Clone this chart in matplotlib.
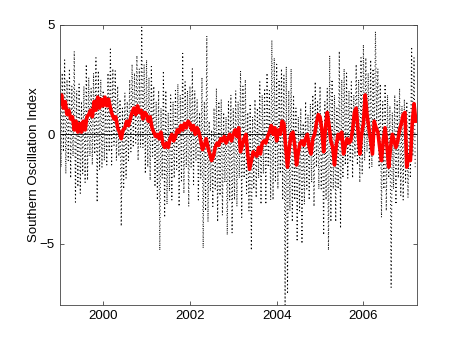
import matplotlib.pyplot as plt
import numpy as np

plt.rcParams['font.family'] = ['Liberation Sans', 'DejaVu Sans']

START = 1999.0
# daily-ish SOI (~10 day steps, 36 per year)
soi_1999 = [3.2, -1.5, 2.8, -0.8, 3.4, -1.8, 2.5, -1.2, 3.0, -2.0, 2.2, -1.0,
            3.8, -3.1, 2.0, -2.4, 2.3, -2.7, 1.5, -1.8, 2.2, -2.2, 3.2, -2.1,
            2.6, -1.0, 2.1, -1.4, 2.8, -0.9, 3.5, -3.1, 2.9, -1.6, 2.5, -1.5]
soi_2000 = [2.0, -1.2, 1.6, -1.4, 2.8, -0.8, 3.9, -1.4, 3.0, -0.5, 2.9, -1.2,
            2.2, -1.0, 1.6, -4.2, 1.2, -2.5, 1.9, -2.0, 1.5, -1.2, 2.5, -0.8,
            3.2, -0.6, 2.8, -0.4, 3.6, -1.2, 3.0, -0.6, 4.9, -0.6, 3.2, -1.8]
soi_2001 = [3.4, -1.5, 2.6, -2.1, 3.1, -1.0, 2.2, -2.4, 1.5, -3.0, 2.0, -5.3,
            1.2, -2.0, 2.9, -3.8, 2.0, -3.2, 1.0, -2.6, 1.8, -3.0, 1.5, -2.0,
            2.0, -1.6, 2.3, -3.3, 1.8, -2.2, 3.7, -2.7, 2.4, -1.5, 2.0, -3.3]
soi_2002 = [2.2, -1.5, 3.0, -2.3, 2.0, -1.2, 1.6, -3.0, 1.0, -2.0, 2.6, -5.2,
            1.5, -3.5, 4.5, -4.0, 0.6, -2.6, 0.2, -3.3, 1.2, -2.5, 2.1, -4.0,
            1.5, -2.8, 1.6, -3.7, 1.0, -2.2, 0.8, -4.6, 1.5, -3.0, 1.8, -4.5]
soi_2003 = [1.2, -3.0, 2.0, -3.3, 1.5, -2.0, 2.9, -3.8, 2.2, -2.0, 2.5, -2.7,
            1.0, -3.5, 1.4, -5.3, 0.8, -2.5, 1.6, -2.9, 1.2, -2.0, 2.4, -3.2,
            1.8, -1.8, 2.1, -3.2, 2.8, -1.5, 2.0, -3.0, 4.3, -3.0, 3.5, -2.2]
soi_2004 = [3.2, -2.5, 2.5, -1.8, 3.0, -3.0, 2.7, -7.8, 3.1, -7.3, 2.0, -3.5,
            3.0, -4.0, 1.8, -3.0, 1.2, -4.9, 0.8, -3.5, 1.2, -5.0, 0.5, -3.2,
            1.5, -2.5, 0.9, -3.0, 1.4, -2.2, 1.8, -3.3, 2.4, -1.5, 1.5, -2.5]
soi_2005 = [2.2, -2.5, 0.6, -4.6, 1.5, -3.0, 2.1, -5.3, 3.6, -4.0, 2.5, -2.5,
            1.8, -4.0, 1.2, -2.5, 3.8, -4.3, 2.5, -2.0, 3.0, -1.4, 2.8, -2.0,
            2.0, -1.2, 2.4, -2.0, 1.8, -1.0, 3.2, -1.4, 2.5, -2.2, 3.5, -1.8]
soi_2006 = [4.1, -1.2, 3.5, -0.8, 2.8, -1.6, 3.4, -1.5, 3.0, -0.5, 4.7, 0.6,
            3.0, -1.5, 2.3, -3.8, 1.5, -2.5, 2.3, -3.5, 1.8, -2.0, 1.3, -7.0,
            1.0, -2.5, 1.8, -3.2, 1.5, -2.0, 2.1, -2.8, 1.3, -3.0, 1.6, -2.2]
soi_2007 = [1.5, -2.9, 1.0, -2.0, 4.0, -1.0, 3.5, -1.5]

# smoothed index (red), 24 per year
smooth_1999 = [1.4, 1.8, 1.2, 1.5, 0.9, 1.1, 0.7, 0.8, 0.2, 0.6, 0.1, 0.5,
               0.1, 0.6, 0.2, 0.8, 0.9, 1.1, 0.8, 1.5, 1.1, 1.7, 1.2, 1.6]
smooth_2000 = [1.3, 1.7, 1.3, 1.6, 1.2, 0.9, 0.7, 0.8, 0.3, 0.1, -0.2, 0.2,
               0.3, 0.6, 0.4, 0.7, 1.0, 1.2, 0.9, 1.3, 1.0, 1.1, 0.7, 1.0]
smooth_2001 = [0.9, 0.6, 0.8, 0.3, 0.1, -0.1, 0.0, -0.2, 0.1, -0.4, -0.6, -0.4,
               -0.6, -0.2, 0.0, -0.3, -0.1, 0.2, 0.1, 0.4, 0.2, 0.5, 0.3, 0.6]
smooth_2002 = [0.5, 0.2, 0.4, 0.0, 0.3, 0.1, -0.3, -0.7, -0.5, -0.2, -0.6, -0.9,
               -1.2, -1.0, -0.6, -0.4, -0.5, -0.2, -0.3, -0.1, -0.4, -0.2, 0.0, -0.3]
smooth_2003 = [0.0, 0.2, -0.1, 0.3, -0.8, -0.5, -0.2, 0.0, -0.9, -1.6, -1.2, -0.8,
               -0.9, -1.0, -0.6, -0.9, -0.4, -0.3, -0.4, -0.1, 0.1, 0.4, 0.0, 0.3]
smooth_2004 = [-0.3, 0.2, 0.0, 0.6, 0.5, -0.6, -1.5, -0.6, 0.0, 0.1, -0.5, -1.4,
               -0.8, -0.4, -0.3, -0.5, -0.2, 0.0, -0.6, -0.9, -0.2, 0.0, 0.5, 0.9]
smooth_2005 = [0.8, 0.2, -0.8, 0.3, 1.0, 0.4, -0.3, -0.6, -1.4, -0.5, 0.0, -0.2,
               0.1, -0.9, -0.5, -0.2, -0.4, -0.3, 0.2, 1.0, 1.2, 0.2, -0.9, 0.0]
smooth_2006 = [0.5, 1.8, 0.9, 0.3, -0.3, -0.9, 0.6, 0.3, 0.1, -0.6, -1.2, -0.3,
               0.3, -0.5, -1.5, -0.6, 0.0, -0.3, -0.6, -0.3, 0.2, 0.5, 0.9, 1.0]
smooth_2007 = [-1.5, -1.0, -1.2, 0.5, 1.4, 0.6]

soi = np.array(soi_1999 + soi_2000 + soi_2001 + soi_2002 + soi_2003 +
               soi_2004 + soi_2005 + soi_2006 + soi_2007)
smooth = np.array(smooth_1999 + smooth_2000 + smooth_2001 + smooth_2002 +
                  smooth_2003 + smooth_2004 + smooth_2005 + smooth_2006 +
                  smooth_2007)
t_soi = START + np.arange(len(soi)) / 36.0
t_smooth = START + np.arange(len(smooth)) / 24.0

fig = plt.figure(figsize=(4.6, 3.46), dpi=100)
ax = fig.add_axes([0.13, 0.1185, 0.776, 0.8095])
ax.plot(t_soi, soi, color='k', linestyle=(0, (1, 2.6)), linewidth=0.75)
ax.axhline(0, color='k', linewidth=0.6)
ax.plot(t_smooth, smooth, color='red', linewidth=2.6)

ax.set_xlim(1999.0, 2007.23)
ax.set_ylim(-7.8, 5)
ax.set_xticks([2000, 2002, 2004, 2006])
ax.set_yticks([-5, 0, 5])
ax.set_ylabel('Southern Oscillation Index', fontsize=9.5, labelpad=0)
ax.tick_params(direction='in', top=True, right=True, length=3, width=0.6,
               labelsize=9.5, color='#444444')
for s in ax.spines.values():
    s.set_linewidth(0.6)
    s.set_color('#444444')

plt.savefig('out.png')
